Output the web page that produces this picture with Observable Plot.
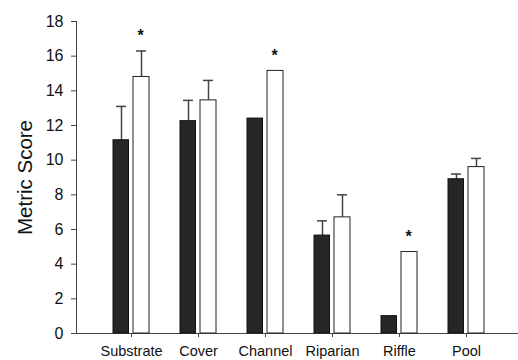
<!DOCTYPE html>
<html>
<head>
<meta charset="utf-8">
<script src="https://cdn.jsdelivr.net/npm/d3@7"></script>
<script src="https://cdn.jsdelivr.net/npm/@observablehq/plot@0.6"></script>
<style>
  html, body { margin: 0; padding: 0; background: #fff; }
  #chart svg { display: block; }
</style>
</head>
<body>
<div id="chart"></div>
<script>
const categories = ["Substrate", "Cover", "Channel", "Riparian", "Riffle", "Pool"];
const darkMean  = [11.15, 12.25, 12.4, 5.65, 1.0, 8.9];
const darkErr   = [13.1, 13.45, null, 6.5, null, 9.2];
const whiteMean = [14.8, 13.45, 15.15, 6.7, 4.7, 9.6];
const whiteErr  = [16.3, 14.6, null, 8.0, null, 10.1];
const starCategories = ["Substrate", "Channel", "Riffle"];
const starValues = [17.35, 16.2, 5.75];
const yTicks = [0, 2, 4, 6, 8, 10, 12, 14, 16, 18];

const dark = categories.map((c, i) => ({cat: c, v: darkMean[i], e: darkErr[i]}));
const white = categories.map((c, i) => ({cat: c, v: whiteMean[i], e: whiteErr[i]}));
const stars = starCategories.map((c, i) => ({cat: c, y: starValues[i]}));

const chart = Plot.plot({
  width: 518,
  height: 360,
  marginLeft: 76,
  marginRight: 0,
  marginTop: 21,
  marginBottom: 27,
  style: {fontFamily: "'Liberation Sans', Arial, sans-serif", color: "#111", background: "#fff"},
  x: {type: "band", domain: categories, range: [96.2, 501.5], paddingInner: 0.46, paddingOuter: 0.23},
  y: {domain: [0, 18]},
  marks: [
    Plot.axisY({ticks: yTicks, tickSize: 5, tickPadding: 8, fontSize: 16, label: null, stroke: "#444"}),
    Plot.axisX({tickSize: 4, tickPadding: 8, fontSize: 14.5, label: null, stroke: "#444"}),
    Plot.frame({anchor: "left", stroke: "#444"}),
    Plot.ruleY([0], {stroke: "#444"}),
    Plot.ruleX(dark.filter(d => d.e != null), {x: "cat", y1: "v", y2: "e", dx: -10, stroke: "#444", strokeWidth: 1.5}),
    Plot.tickY(dark.filter(d => d.e != null), {x: "cat", y: "e", insetLeft: 3, insetRight: 23, stroke: "#444", strokeWidth: 1.5}),
    Plot.ruleX(white.filter(d => d.e != null), {x: "cat", y1: "v", y2: "e", dx: 10, stroke: "#444", strokeWidth: 1.5}),
    Plot.tickY(white.filter(d => d.e != null), {x: "cat", y: "e", insetLeft: 23, insetRight: 3, stroke: "#444", strokeWidth: 1.5}),
    Plot.barY(dark, {x: "cat", y: "v", fill: "#262626", stroke: "#111", insetRight: 20.5}),
    Plot.barY(white, {x: "cat", y: "v", fill: "#fff", stroke: "#222", insetLeft: 20}),
    Plot.text(stars, {x: "cat", y: "y", text: () => "*", dx: 9, dy: 3, fontSize: 16, fontWeight: "bold", fill: "#111"}),
    Plot.text(["Metric Score"], {frameAnchor: "left", textAnchor: "middle", rotate: -90, dx: -51, dy: 0, fontSize: 20.5, fill: "#111"})
  ]
});
document.getElementById("chart").appendChild(chart);
</script>
</body>
</html>
